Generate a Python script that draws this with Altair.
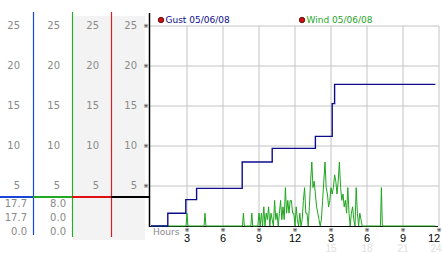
import altair as alt
import pandas as pd

# ---------------- data ----------------
gust_hours = [0, 1.4, 2.9, 3.8, 7.6, 10.1, 13.7, 15.1, 15.3, 23.7]
gust_values = [0, 1.6, 3.3, 4.7, 8.0, 9.7, 11.2, 15.3, 17.7, 17.7]

wind_early_hours = [0, 2.92, 3.0, 3.08, 4.42, 4.5, 4.58, 7.62, 7.7, 7.78, 8.32, 8.4, 8.48, 8.9]
wind_early_values = [0, 0, 1.6, 0, 0, 1.6, 0, 0, 1.6, 0, 0, 1.6, 0, 0]

wind_dense_start = 9.0
wind_dense_values = [
    1.6, 0, 1.6, 0, 2.4, 0, 1.6, 0.8, 2.4, 0,
    1.6, 0.8, 0, 3.2, 0.8, 1.6, 0, 1.6, 3.2, 0.8,
    2.4, 0.8, 4.8, 1.6, 3.2, 1.6, 3.2, 3.2, 1.6, 1.6,
    0, 2.4, 0.8, 0, 1.6, 0, 0.8, 3.2, 4.8, 1.6,
    1.6, 0, 2.4, 5.6, 8.0, 4.8, 5.6, 4.0, 2.4, 1.6,
    0.8, 0, 0.8, 3.2, 5.6, 8.0, 4.8, 4.0, 2.4, 3.2,
    4.8, 4.0, 4.8, 6.4, 5.6, 4.0, 5.6, 8.0, 4.8, 3.2,
    4.0, 2.4, 3.2, 1.6, 4.8, 1.6, 0, 1.6, 2.4, 0.8,
    0, 4.8, 1.6, 0, 1.6, 0.8, 0,
]
wind_late_hours = [17.7, 19.12, 19.2, 19.28, 23.7]
wind_late_values = [0, 0, 4.8, 0, 0]

y_ticks = [5, 10, 15, 20, 25]
x_tick_hours = [3, 6, 9, 12, 15, 18, 21]
x_tick_labels = ["3", "6", "9", "12", "3", "6", "9"]
last_tick_hour = 24
last_tick_label = "12"
second_day_hours = [15, 18, 21]
second_day_labels = ["15", "18", "21"]
last_second_label = "24"

gust_stats = ["17.7", "17.7", "0.0"]
wind_stats = ["8.0", "0.0", "0.0"]

# ---------------- frames ----------------
gust_df = pd.DataFrame({"h": gust_hours, "v": gust_values})
dense_hours = [round(wind_dense_start + 0.1 * i, 1) for i in range(len(wind_dense_values))]
wind_df = pd.DataFrame({
    "h": wind_early_hours + dense_hours + wind_late_hours,
    "v": wind_early_values + wind_dense_values + wind_late_values,
})
ytick_df = pd.DataFrame({"v": y_ticks, "t": [str(v) for v in y_ticks]})
vgrid_df = pd.DataFrame({"h": x_tick_hours + [last_tick_hour], "y0": 0, "y1": 25})
xlab_df = pd.DataFrame({"h": x_tick_hours, "t": x_tick_labels})
xlab_last_df = pd.DataFrame({"h": [last_tick_hour], "t": [last_tick_label]})
sec_df = pd.DataFrame({"h": second_day_hours, "t": second_day_labels})
sec_last_df = pd.DataFrame({"h": [last_tick_hour], "t": [last_second_label]})
one = pd.DataFrame({"a": [0]})

xs = alt.Scale(domain=[0, 24], range=[151, 439], nice=False, zero=False)
ys = alt.Scale(domain=[0, 25], range=[226, 26], nice=False, zero=False)
FONT = "DejaVu Sans"

BLUE = "#0c0c8c"
GREEN = "#1fa51f"
RED = "#d01010"
GRAYTXT = "#8a8a8a"

layers = []

# gray column backgrounds
for x0, x1 in [(73, 111), (112, 145)]:
    layers.append(alt.Chart(one).mark_rect(color="#f3f3f3").encode(
        x=alt.value(x0), x2=alt.value(x1), y=alt.value(16), y2=alt.value(240)))

# column separators
for xp, col, y2 in [(33.5, "#1a46d8", 235), (72.5, "#2aa82a", 237), (111.5, "#d42020", 237)]:
    layers.append(alt.Chart(one).mark_rule(color=col, strokeWidth=1.2).encode(
        x=alt.value(xp), y=alt.value(12), y2=alt.value(y2)))

# thick horizontal marker line
for x0, x1, col in [(0, 33, "#1a46d8"), (33, 72, "#22a822"), (72, 111, "#e01010"), (111, 149, "#000000")]:
    layers.append(alt.Chart(one).mark_rule(color=col, strokeWidth=2.2).encode(
        x=alt.value(x0), x2=alt.value(x1), y=alt.value(197)))

# left y labels (4 columns)
for xr in [20, 60, 99, 137]:
    layers.append(alt.Chart(ytick_df).mark_text(
        align="right", baseline="middle", font=FONT, fontSize=10, color=GRAYTXT).encode(
        x=alt.value(xr), y=alt.Y("v:Q", scale=ys, axis=None), text="t:N"))

# stats under columns
for xr, vals in [(27, gust_stats), (66, wind_stats)]:
    for yp, t in zip([204, 218, 232], vals):
        layers.append(alt.Chart(one).mark_text(
            align="right", baseline="middle", font=FONT, fontSize=10, color=GRAYTXT).encode(
            x=alt.value(xr), y=alt.value(yp), text=alt.value(t)))

# grid
layers.append(alt.Chart(ytick_df).mark_rule(color="#c4c4c4", strokeWidth=1).encode(
    x=alt.value(149), x2=alt.value(439), y=alt.Y("v:Q", scale=ys, axis=None)))
layers.append(alt.Chart(vgrid_df).mark_rule(color="#c4c4c4", strokeWidth=1).encode(
    x=alt.X("h:Q", scale=xs, axis=None),
    y=alt.Y("y0:Q", scale=ys, axis=None), y2="y1:Q"))

# baseline + main axis
layers.append(alt.Chart(one).mark_rule(color="#000000", strokeWidth=1).encode(
    x=alt.value(149), x2=alt.value(438), y=alt.value(226.5)))
layers.append(alt.Chart(one).mark_rule(color="#000000", strokeWidth=1.5).encode(
    x=alt.value(149.5), y=alt.value(13), y2=alt.value(227)))

# tick glyphs
layers.append(alt.Chart(ytick_df).mark_text(
    align="center", baseline="middle", font=FONT, fontSize=6, color="#000").encode(
    x=alt.value(146), y=alt.Y("v:Q", scale=ys, axis=None), text=alt.value("※")))
layers.append(alt.Chart(vgrid_df).mark_text(
    align="center", baseline="middle", font=FONT, fontSize=6, color="#000").encode(
    x=alt.X("h:Q", scale=xs, axis=None), y=alt.value(230), text=alt.value("※")))

# x labels
layers.append(alt.Chart(xlab_df).mark_text(
    align="center", baseline="middle", font="Liberation Sans", fontSize=11, color="#000").encode(
    x=alt.X("h:Q", scale=xs, axis=None), y=alt.value(238.5), text="t:N"))
layers.append(alt.Chart(xlab_last_df).mark_text(
    align="center", baseline="middle", font="Liberation Sans", fontSize=11, color="#000", dx=-5).encode(
    x=alt.X("h:Q", scale=xs, axis=None), y=alt.value(238.5), text="t:N"))
layers.append(alt.Chart(sec_df).mark_text(
    align="center", baseline="middle", font="Liberation Sans", fontSize=10, color="#e0e0e0").encode(
    x=alt.X("h:Q", scale=xs, axis=None), y=alt.value(249), text="t:N"))
layers.append(alt.Chart(sec_last_df).mark_text(
    align="center", baseline="middle", font="Liberation Sans", fontSize=10, color="#e0e0e0", dx=-3).encode(
    x=alt.X("h:Q", scale=xs, axis=None), y=alt.value(249), text="t:N"))
layers.append(alt.Chart(one).mark_text(
    align="left", baseline="middle", font=FONT, fontSize=9, color=GRAYTXT).encode(
    x=alt.value(153), y=alt.value(232), text=alt.value("Hours")))

# data lines
layers.append(alt.Chart(wind_df).mark_line(color=GREEN, strokeWidth=1).encode(
    x=alt.X("h:Q", scale=xs, axis=None), y=alt.Y("v:Q", scale=ys, axis=None)))
layers.append(alt.Chart(gust_df).mark_line(color=BLUE, strokeWidth=1.4, interpolate="step-after").encode(
    x=alt.X("h:Q", scale=xs, axis=None), y=alt.Y("v:Q", scale=ys, axis=None)))

# legend
for xp, label, col in [(161, "Gust 05/06/08", BLUE), (302, "Wind 05/06/08", GREEN)]:
    layers.append(alt.Chart(one).mark_point(
        filled=True, fill=RED, stroke="#400000", strokeWidth=0.8, size=30, opacity=1).encode(
        x=alt.value(xp), y=alt.value(20)))
    layers.append(alt.Chart(one).mark_text(
        align="left", baseline="middle", font=FONT, fontSize=9, color=col).encode(
        x=alt.value(xp + 4.5), y=alt.value(20), text=alt.value(label)))

chart = alt.layer(*layers).properties(
    width=442, height=253, padding=0, autosize=alt.AutoSizeParams(type="none"),
    background="white",
).configure_view(stroke=None)

chart.save("out.html", embed_options={"renderer": "svg", "actions": False})
